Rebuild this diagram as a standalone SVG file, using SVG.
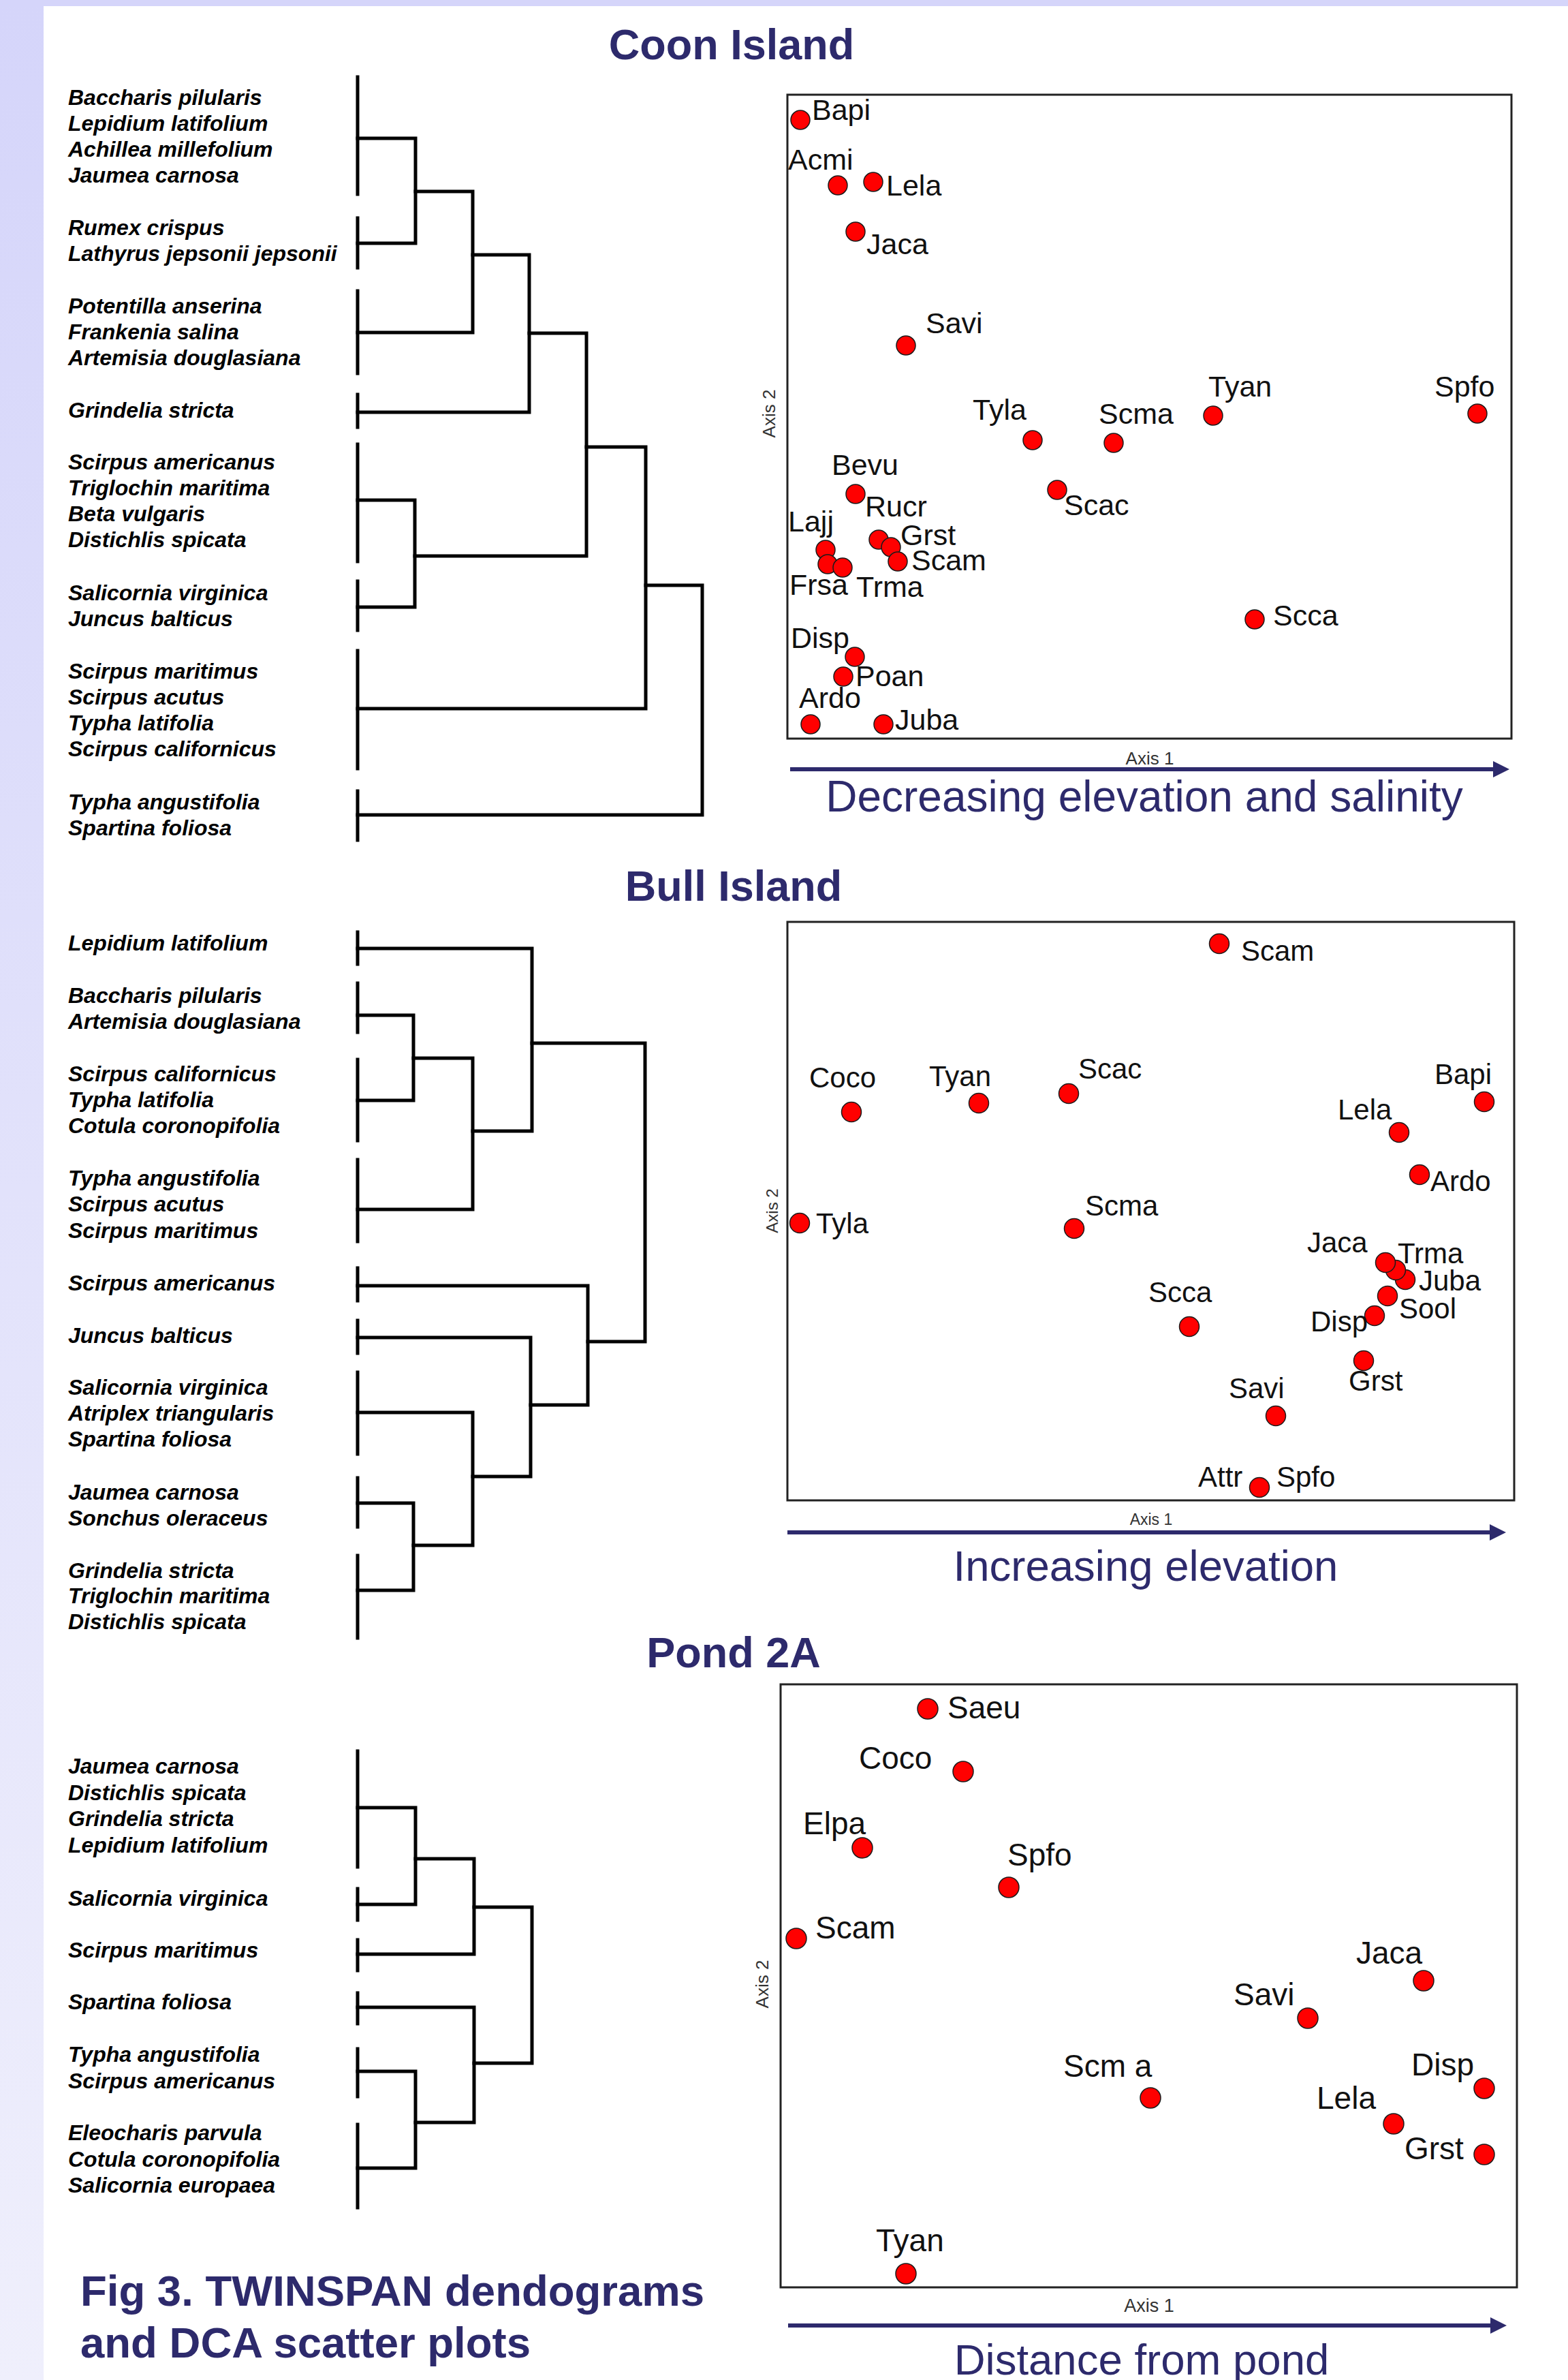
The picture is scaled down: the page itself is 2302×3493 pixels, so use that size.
<svg xmlns="http://www.w3.org/2000/svg" width="2302" height="3493" viewBox="0 0 2302 3493">
<defs>
<linearGradient id="strip" x1="0" y1="0" x2="0" y2="1">
<stop offset="0" stop-color="#D5D5FA"/>
<stop offset="1" stop-color="#EFEFFC"/>
</linearGradient>
</defs>
<style>
.title{font-family:"Liberation Sans",Arial,sans-serif;font-weight:bold;font-size:63px;fill:#2D2A6C;text-anchor:middle}
.sp{font-family:"Liberation Sans",Arial,sans-serif;font-weight:bold;font-style:italic;font-size:32px;fill:#000}
.tree{fill:none;stroke:#000;stroke-width:5;stroke-linecap:square;stroke-linejoin:miter}
.box{fill:#fff;stroke:#222;stroke-width:3}
.pt{fill:#FF0000;stroke:#1a1a1a;stroke-width:1.5}
.lb{font-family:"Liberation Sans",Arial,sans-serif;font-size:43px;fill:#111}
.lbp{font-family:"Liberation Sans",Arial,sans-serif;font-size:46px;fill:#111}
.ax{font-family:"Liberation Sans",Arial,sans-serif;font-size:26px;fill:#333;text-anchor:middle}
.arr{stroke:#2D2A6C;stroke-width:6}
.arh{fill:#2D2A6C}
.grad{font-family:"Liberation Sans",Arial,sans-serif;font-size:63.5px;fill:#2D2A6C;text-anchor:middle}
</style>
<rect x="0" y="0" width="2302" height="3493" fill="#fff"/>
<rect x="0" y="0" width="64" height="3493" fill="url(#strip)"/>
<rect x="0" y="0" width="2302" height="9" fill="#D5D5FA"/>

<g id="coon-island">
<text class="title" x="1074" y="87">Coon Island</text>
<g id="coon-labels" class="sp">
<text x="100" y="154">Baccharis pilularis</text>
<text x="100" y="192">Lepidium latifolium</text>
<text x="100" y="230">Achillea millefolium</text>
<text x="100" y="268">Jaumea carnosa</text>
<text x="100" y="345">Rumex crispus</text>
<text x="100" y="383">Lathyrus jepsonii jepsonii</text>
<text x="100" y="460">Potentilla anserina</text>
<text x="100" y="498">Frankenia salina</text>
<text x="100" y="536">Artemisia douglasiana</text>
<text x="100" y="613">Grindelia stricta</text>
<text x="100" y="689">Scirpus americanus</text>
<text x="100" y="727">Triglochin maritima</text>
<text x="100" y="765">Beta vulgaris</text>
<text x="100" y="803">Distichlis spicata</text>
<text x="100" y="881">Salicornia virginica</text>
<text x="100" y="919">Juncus balticus</text>
<text x="100" y="996">Scirpus maritimus</text>
<text x="100" y="1034">Scirpus acutus</text>
<text x="100" y="1072">Typha latifolia</text>
<text x="100" y="1110">Scirpus californicus</text>
<text x="100" y="1188">Typha angustifolia</text>
<text x="100" y="1226">Spartina foliosa</text>
</g>
<g id="coon-tree" class="tree">
<path d="M525 113V285M525 320V393M525 427V548M525 579V627M525 652V824M525 853V925M525 955V1128M525 1161V1233"/>
<path d="M525 203H610V357H525"/>
<path d="M610 281H694V488H525"/>
<path d="M694 374H777V605H525"/>
<path d="M525 734H609V891H525"/>
<path d="M777 489H861V816H609"/>
<path d="M861 656H948V1040H525"/>
<path d="M948 859H1031V1196H525"/>
</g>
<g id="coon-plot">
<rect class="box" x="1156" y="139" width="1063" height="945"/>
<text class="ax" transform="translate(1138 607) rotate(-90)">Axis 2</text>
<text class="ax" x="1688" y="1122">Axis 1</text>
<g class="pt">
<circle cx="1175" cy="176" r="14"/>
<circle cx="1230" cy="272" r="14"/>
<circle cx="1282" cy="267" r="14"/>
<circle cx="1256" cy="340" r="14"/>
<circle cx="1330" cy="507" r="14"/>
<circle cx="1516" cy="646" r="14"/>
<circle cx="1635" cy="650" r="14"/>
<circle cx="1781" cy="610" r="14"/>
<circle cx="2169" cy="607" r="14"/>
<circle cx="1256" cy="725" r="14"/>
<circle cx="1552" cy="719" r="14"/>
<circle cx="1212" cy="807" r="14"/>
<circle cx="1215" cy="828" r="14"/>
<circle cx="1237" cy="833" r="14"/>
<circle cx="1290" cy="792" r="14"/>
<circle cx="1308" cy="803" r="14"/>
<circle cx="1318" cy="824" r="14"/>
<circle cx="1842" cy="909" r="14"/>
<circle cx="1255" cy="964" r="14"/>
<circle cx="1238" cy="993" r="14"/>
<circle cx="1190" cy="1063" r="14"/>
<circle cx="1297" cy="1063" r="14"/>
</g>
<g class="lb">
<text x="1192" y="176">Bapi</text>
<text x="1157" y="249">Acmi</text>
<text x="1301" y="287">Lela</text>
<text x="1272" y="373">Jaca</text>
<text x="1359" y="489">Savi</text>
<text x="1428" y="616">Tyla</text>
<text x="1613" y="622">Scma</text>
<text x="1774" y="582">Tyan</text>
<text x="2106" y="582">Spfo</text>
<text x="1221" y="697">Bevu</text>
<text x="1270" y="758">Rucr</text>
<text x="1562" y="756">Scac</text>
<text x="1157" y="780">Lajj</text>
<text x="1322" y="800">Grst</text>
<text x="1338" y="837">Scam</text>
<text x="1159" y="873">Frsa</text>
<text x="1257" y="876">Trma</text>
<text x="1869" y="918">Scca</text>
<text x="1161" y="951">Disp</text>
<text x="1256" y="1007">Poan</text>
<text x="1173" y="1039">Ardo</text>
<text x="1314" y="1071">Juba</text>
</g>
<line class="arr" x1="1160" y1="1129" x2="2196" y2="1129"/>
<polygon class="arh" points="2192,1117 2216,1129 2192,1141"/>
<text class="grad" x="1680" y="1191" style="font-size:64px">Decreasing elevation and salinity</text>
</g>
</g>

<g id="bull-island">
<text class="title" x="1077" y="1322">Bull Island</text>
<g id="bull-labels" class="sp">
<text x="100" y="1395">Lepidium latifolium</text>
<text x="100" y="1472">Baccharis pilularis</text>
<text x="100" y="1510">Artemisia douglasiana</text>
<text x="100" y="1587">Scirpus californicus</text>
<text x="100" y="1625">Typha latifolia</text>
<text x="100" y="1663">Cotula coronopifolia</text>
<text x="100" y="1740">Typha angustifolia</text>
<text x="100" y="1778">Scirpus acutus</text>
<text x="100" y="1817">Scirpus maritimus</text>
<text x="100" y="1894">Scirpus americanus</text>
<text x="100" y="1971">Juncus balticus</text>
<text x="100" y="2047">Salicornia virginica</text>
<text x="100" y="2085">Atriplex triangularis</text>
<text x="100" y="2123">Spartina foliosa</text>
<text x="100" y="2201">Jaumea carnosa</text>
<text x="100" y="2239">Sonchus oleraceus</text>
<text x="100" y="2316">Grindelia stricta</text>
<text x="100" y="2353">Triglochin maritima</text>
<text x="100" y="2391">Distichlis spicata</text>
</g>
<g id="bull-tree" class="tree">
<path d="M525 1368V1415M525 1443V1515M525 1555V1674M525 1702V1822M525 1861V1909M525 1938V1986M525 2014V2134M525 2169V2241M525 2283V2404"/>
<path d="M525 1490H607V1615H525"/>
<path d="M607 1553H694V1775H525"/>
<path d="M694 1660H781V1392H525"/>
<path d="M781 1531H947V1969H863"/>
<path d="M525 2206H607V2334H525"/>
<path d="M607 2268H694V2073H525"/>
<path d="M694 2167H779V1963H525"/>
<path d="M779 2062H863V1887H525"/>
</g>
<g id="bull-plot">
<rect class="box" x="1156" y="1353" width="1067" height="849"/>
<text class="ax" transform="translate(1142 1777) rotate(-90)" style="font-size:24px">Axis 2</text>
<text class="ax" x="1690" y="2238" style="font-size:23px">Axis 1</text>
<g class="pt">
<circle cx="1790" cy="1385" r="14.5"/>
<circle cx="1250" cy="1632" r="14.5"/>
<circle cx="1437" cy="1619" r="14.5"/>
<circle cx="1569" cy="1605" r="14.5"/>
<circle cx="2179" cy="1617" r="14.5"/>
<circle cx="2054" cy="1662" r="14.5"/>
<circle cx="2084" cy="1724" r="14.5"/>
<circle cx="1174" cy="1795" r="14.5"/>
<circle cx="1577" cy="1803" r="14.5"/>
<circle cx="2063" cy="1878" r="14.5"/>
<circle cx="2049" cy="1864" r="14.5"/>
<circle cx="2034" cy="1853" r="14.5"/>
<circle cx="2037" cy="1902" r="14.5"/>
<circle cx="2018" cy="1931" r="14.5"/>
<circle cx="1746" cy="1947" r="14.5"/>
<circle cx="2002" cy="1997" r="14.5"/>
<circle cx="1873" cy="2078" r="14.5"/>
<circle cx="1849" cy="2183" r="14.5"/>
</g>
<g class="lb" style="font-size:42px">
<text x="1822" y="1410">Scam</text>
<text x="1188" y="1596">Coco</text>
<text x="1364" y="1594">Tyan</text>
<text x="1583" y="1583">Scac</text>
<text x="2106" y="1591">Bapi</text>
<text x="1964" y="1643">Lela</text>
<text x="2100" y="1748">Ardo</text>
<text x="1198" y="1810">Tyla</text>
<text x="1593" y="1784">Scma</text>
<text x="1919" y="1838">Jaca</text>
<text x="2052" y="1854">Trma</text>
<text x="2083" y="1894">Juba</text>
<text x="2054" y="1935">Sool</text>
<text x="1924" y="1954">Disp</text>
<text x="1686" y="1911">Scca</text>
<text x="1980" y="2041">Grst</text>
<text x="1804" y="2052">Savi</text>
<text x="1759" y="2182">Attr</text>
<text x="1874" y="2182">Spfo</text>
</g>
<line class="arr" x1="1156" y1="2249" x2="2190" y2="2249"/>
<polygon class="arh" points="2187,2237 2211,2249 2187,2261"/>
<text class="grad" x="1682" y="2320">Increasing elevation</text>
</g>
</g>

<g id="pond-2a">
<text class="title" x="1077" y="2447">Pond 2A</text>
<g id="pond-labels" class="sp">
<text x="100" y="2603">Jaumea carnosa</text>
<text x="100" y="2642">Distichlis spicata</text>
<text x="100" y="2680">Grindelia stricta</text>
<text x="100" y="2719">Lepidium latifolium</text>
<text x="100" y="2797">Salicornia virginica</text>
<text x="100" y="2873">Scirpus maritimus</text>
<text x="100" y="2949">Spartina foliosa</text>
<text x="100" y="3026">Typha angustifolia</text>
<text x="100" y="3065">Scirpus americanus</text>
<text x="100" y="3141">Eleocharis parvula</text>
<text x="100" y="3180">Cotula coronopifolia</text>
<text x="100" y="3218">Salicornia europaea</text>
</g>
<g id="pond-tree" class="tree">
<path d="M525 2570V2740M525 2772V2818M525 2847V2892M525 2925V2970M525 3007V3077M525 3118V3240"/>
<path d="M525 2653H610V2795H525"/>
<path d="M610 2728H696V2868H525"/>
<path d="M696 2799H781V3028H696"/>
<path d="M525 3040H610V3182H525"/>
<path d="M610 3115H696V2946H525"/>
</g>
<g id="pond-plot">
<rect class="box" x="1146" y="2472" width="1081" height="885"/>
<text class="ax" transform="translate(1128 2912) rotate(-90)">Axis 2</text>
<text class="ax" x="1687" y="3393" style="font-size:27px">Axis 1</text>
<g class="pt">
<circle cx="1362" cy="2508" r="15"/>
<circle cx="1414" cy="2600" r="15"/>
<circle cx="1266" cy="2712" r="15"/>
<circle cx="1481" cy="2770" r="15"/>
<circle cx="1169" cy="2845" r="15"/>
<circle cx="2090" cy="2907" r="15"/>
<circle cx="1920" cy="2962" r="15"/>
<circle cx="1689" cy="3079" r="15"/>
<circle cx="2179" cy="3065" r="15"/>
<circle cx="2046" cy="3117" r="15"/>
<circle cx="2179" cy="3162" r="15"/>
<circle cx="1330" cy="3337" r="15"/>
</g>
<g class="lbp">
<text x="1391" y="2522">Saeu</text>
<text x="1261" y="2596">Coco</text>
<text x="1179" y="2692">Elpa</text>
<text x="1479" y="2738">Spfo</text>
<text x="1197" y="2845">Scam</text>
<text x="1991" y="2882">Jaca</text>
<text x="1811" y="2943">Savi</text>
<text x="1561" y="3048">Scm a</text>
<text x="2072" y="3046">Disp</text>
<text x="1933" y="3095">Lela</text>
<text x="2062" y="3169">Grst</text>
<text x="1286" y="3304">Tyan</text>
</g>
<line class="arr" x1="1157" y1="3413" x2="2190" y2="3413"/>
<polygon class="arh" points="2188,3401 2212,3413 2188,3425"/>
<text class="grad" x="1676" y="3485">Distance from pond</text>
</g>
</g>

<g id="caption" class="title" style="text-anchor:start;font-size:63.5px">
<text x="118" y="3384">Fig 3. TWINSPAN dendograms</text>
<text x="118" y="3460">and DCA scatter plots</text>
</g>
</svg>
